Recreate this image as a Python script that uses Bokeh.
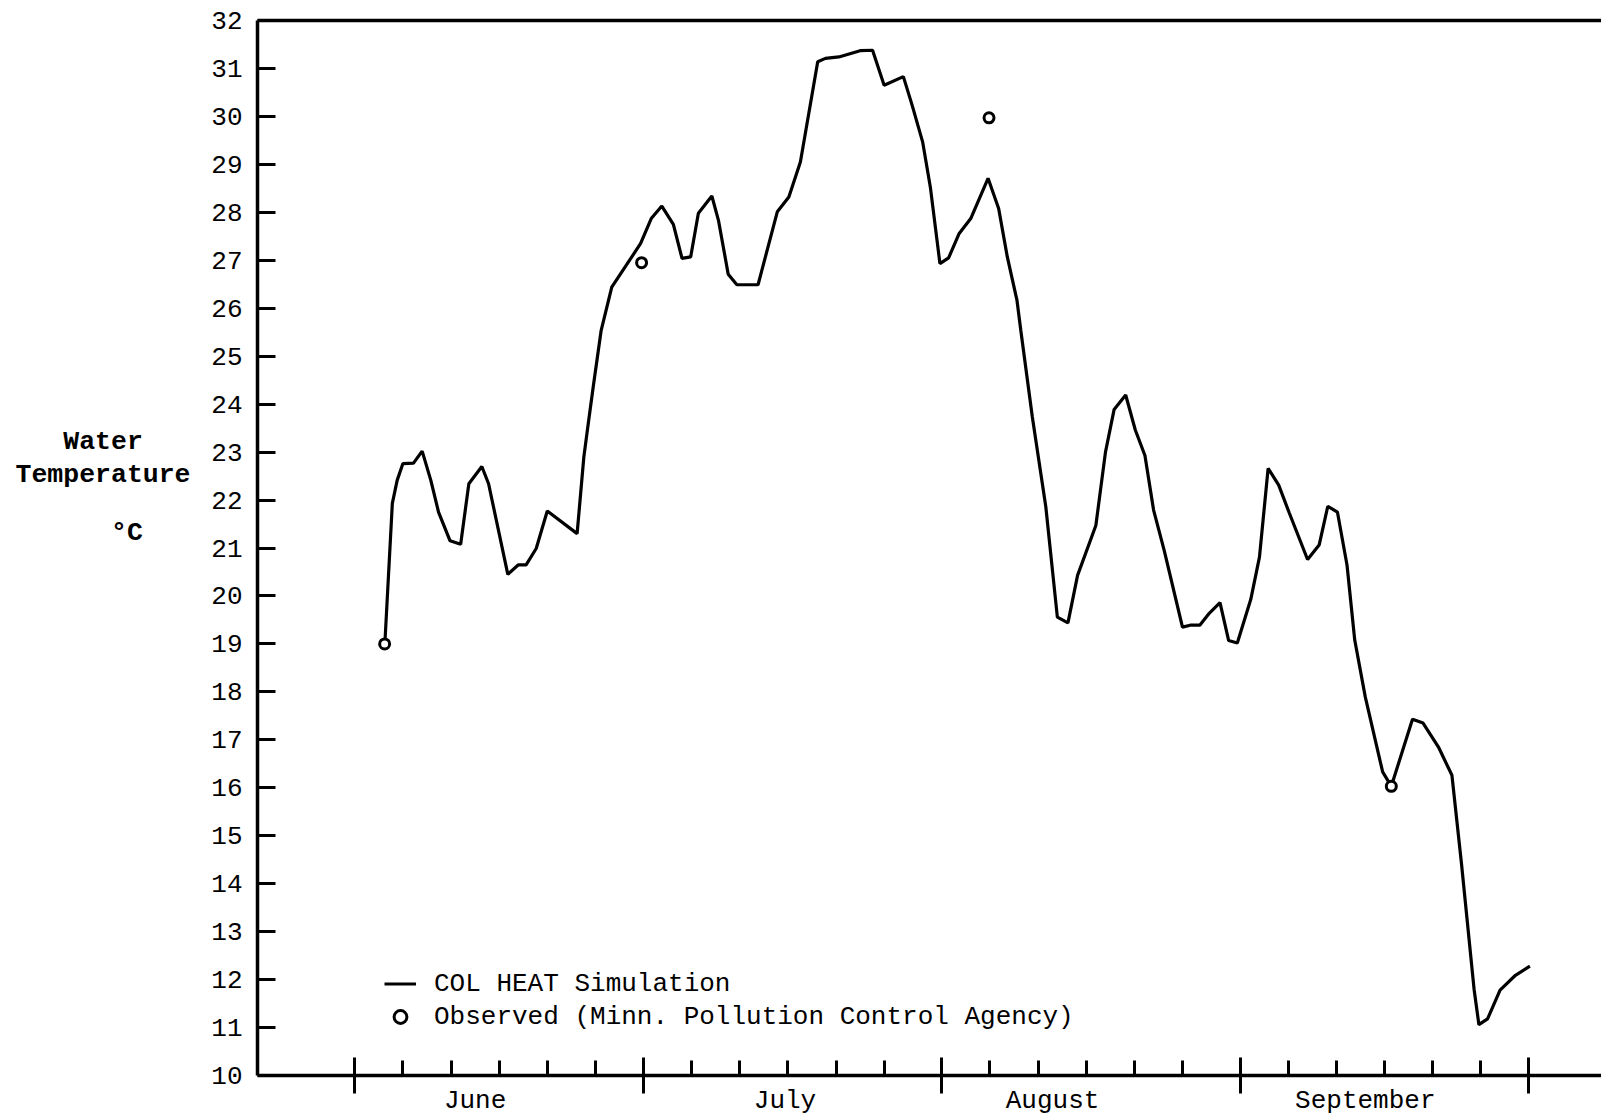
from bokeh.plotting import figure
from bokeh.models import (LinearAxis, FixedTicker, Range1d, Legend, LegendItem,
                          CustomJSTickFormatter)
from bokeh.embed import file_html
from bokeh.resources import INLINE

FONT = "Liberation Mono"

# Days counted from June 1 (day 0); Oct 1 = day 122
sim_day = [3.1, 3.9, 4.4, 5.0, 6.1, 7.0, 7.9, 8.7, 9.9, 11.0, 11.85, 13.2, 13.9,
           15.9, 17.0, 17.8, 18.85, 20.0, 23.1, 23.8, 24.3, 24.8, 25.6, 26.7,
           29.7, 30.8, 31.9, 33.1, 34.0, 34.9, 35.7, 37.1, 37.8, 38.8, 39.7,
           41.9, 43.9, 45.1, 46.3, 48.1, 48.9, 50.3, 52.5, 53.8, 55.0, 57.0,
           57.9, 59.0, 59.8, 60.8, 61.7, 62.8, 64.0, 65.8, 66.9, 67.8, 68.8,
           69.2, 70.4, 71.8, 73.0, 74.1, 75.1, 77.0, 78.0, 78.9, 80.1, 81.1,
           82.1, 83.0, 84.1, 86.0, 86.8, 87.8, 88.7, 89.9, 90.8, 91.7, 93.1,
           94.0, 94.9, 96.0, 97.1, 99.0, 100.2, 101.1, 102.1, 103.1, 103.9,
           105.0, 106.8, 107.7, 109.9, 111.0, 112.6, 114.0, 115.0, 116.3,
           116.8, 117.7, 119.0, 120.6, 122.1]
sim_temp = [18.92, 21.93, 22.41, 22.76, 22.77, 23.02, 22.41, 21.75, 21.15, 21.08,
            22.34, 22.70, 22.34, 20.45, 20.65, 20.65, 20.99, 21.77, 21.30, 22.90,
            23.66, 24.40, 25.54, 26.44, 27.35, 27.87, 28.13, 27.75, 27.04, 27.07,
            27.98, 28.34, 27.82, 26.71, 26.49, 26.49, 28.01, 28.32, 29.05, 31.14,
            31.21, 31.24, 31.37, 31.38, 30.65, 30.83, 30.24, 29.47, 28.53, 26.93,
            27.05, 27.56, 27.87, 28.71, 28.08, 27.07, 26.17, 25.54, 23.73, 21.86,
            19.56, 19.44, 20.43, 21.47, 23.00, 23.89, 24.19, 23.46, 22.93, 21.79,
            20.95, 19.35, 19.39, 19.39, 19.62, 19.86, 19.07, 19.02, 19.93, 20.81,
            22.66, 22.31, 21.73, 20.76, 21.06, 21.87, 21.75, 20.64, 19.08, 17.89,
            16.33, 16.03, 17.43, 17.35, 16.85, 16.26, 14.40, 11.80, 11.06, 11.18,
            11.78, 12.09, 12.28]

obs_day = [3.1, 29.8, 65.9, 107.7]
obs_temp = [19.0, 26.95, 29.97, 16.03]

month_names = ["June", "July", "August", "September"]
month_label_day = [12.5, 44.7, 72.5, 105.0]
month_start_day = [0, 30, 61, 92, 122]
five_day_ticks = [5, 10, 15, 20, 25, 35, 40, 45, 50, 55, 66, 71, 76, 81, 86,
                  97, 102, 107, 112, 117]
y_ticks = list(range(10, 33))

NB = "\u00a0"
ylabel_lines = [NB * 3 + "Water" + NB * 3, "Temperature", NB * 6 + "°C" + NB * 3]
ylabel_pos = [23.21, 22.52, 21.31]

NEAREST_JS = """
let best = 0;
for (let i = 0; i < pos.length; i++) {
  if (Math.abs(pos[i] - tick) < Math.abs(pos[best] - tick)) best = i;
}
return names[best];
"""

p = figure(width=1601, height=1118, output_backend="svg", toolbar_location=None,
           x_range=Range1d(-10.11, 129.54), y_range=Range1d(10, 32),
           min_border_left=257, min_border_right=0, min_border_top=20,
           min_border_bottom=43, x_axis_location=None, y_axis_location=None,
           background_fill_color="white", border_fill_color="white")
p.outline_line_color = None
p.xgrid.visible = False
p.ygrid.visible = False

# y axis
yaxis = LinearAxis(ticker=FixedTicker(ticks=y_ticks, minor_ticks=[]),
                   axis_line_width=3.5, axis_line_color="black",
                   major_tick_in=18, major_tick_out=0, major_tick_line_width=3,
                   minor_tick_line_color=None,
                   major_label_text_font=FONT, major_label_text_font_size="26px",
                   major_label_text_color="black", major_label_standoff=15)
p.add_layout(yaxis, "left")

# y title lines as a second left axis (text only)
ytitle = LinearAxis(ticker=FixedTicker(ticks=ylabel_pos, minor_ticks=[]),
                    formatter=CustomJSTickFormatter(
                        args=dict(pos=ylabel_pos, names=ylabel_lines), code=NEAREST_JS),
                    axis_line_color=None, major_tick_line_color=None,
                    minor_tick_line_color=None,
                    major_label_text_font=FONT, major_label_text_font_size="26.5px",
                    major_label_text_font_style="bold",
                    major_label_text_color="black", major_label_standoff=12)
p.add_layout(ytitle, "left")

# x axis with month boundary ticks and 5-day ticks
xticks = LinearAxis(ticker=FixedTicker(ticks=month_start_day, minor_ticks=five_day_ticks),
                    axis_line_width=3.5, axis_line_color="black",
                    major_tick_in=18, major_tick_out=18, major_tick_line_width=3,
                    minor_tick_in=15, minor_tick_out=0, minor_tick_line_width=3,
                    minor_tick_line_color="black",
                    major_label_overrides={d: "" for d in month_start_day},
                    major_label_text_font_size="0px", major_label_standoff=0)
p.add_layout(xticks, "below")

# month names
xlabels = LinearAxis(ticker=FixedTicker(ticks=month_label_day, minor_ticks=[]),
                     formatter=CustomJSTickFormatter(
                         args=dict(pos=month_label_day, names=month_names), code=NEAREST_JS),
                     axis_line_color=None, major_tick_line_color=None,
                     minor_tick_line_color=None,
                     major_label_text_font=FONT, major_label_text_font_size="26px",
                     major_label_text_color="black", major_label_standoff=-14)
p.add_layout(xlabels, "below")

# top border line
top = LinearAxis(ticker=FixedTicker(ticks=[], minor_ticks=[]),
                 axis_line_width=3.5, axis_line_color="black",
                 major_tick_line_color=None, minor_tick_line_color=None,
                 major_label_text_font_size="0px", major_label_standoff=0)
p.add_layout(top, "above")

line_r = p.line(sim_day, sim_temp, line_color="black", line_width=3.2)
obs_r = p.scatter(obs_day, obs_temp, marker="circle", size=10, line_color="black",
                  line_width=3, fill_color="white")

legend = Legend(items=[LegendItem(label="COL HEAT Simulation", renderers=[line_r]),
                       LegendItem(label="Observed (Minn. Pollution Control Agency)",
                                  renderers=[obs_r])],
                location=(127, 42), glyph_width=32, glyph_height=33, label_height=33,
                label_standoff=18, spacing=0, padding=0, margin=0,
                border_line_color=None, background_fill_alpha=0,
                label_text_font=FONT, label_text_font_size="26px",
                label_text_color="black")
p.add_layout(legend)

open("out.html", "w").write(file_html(p, INLINE))
